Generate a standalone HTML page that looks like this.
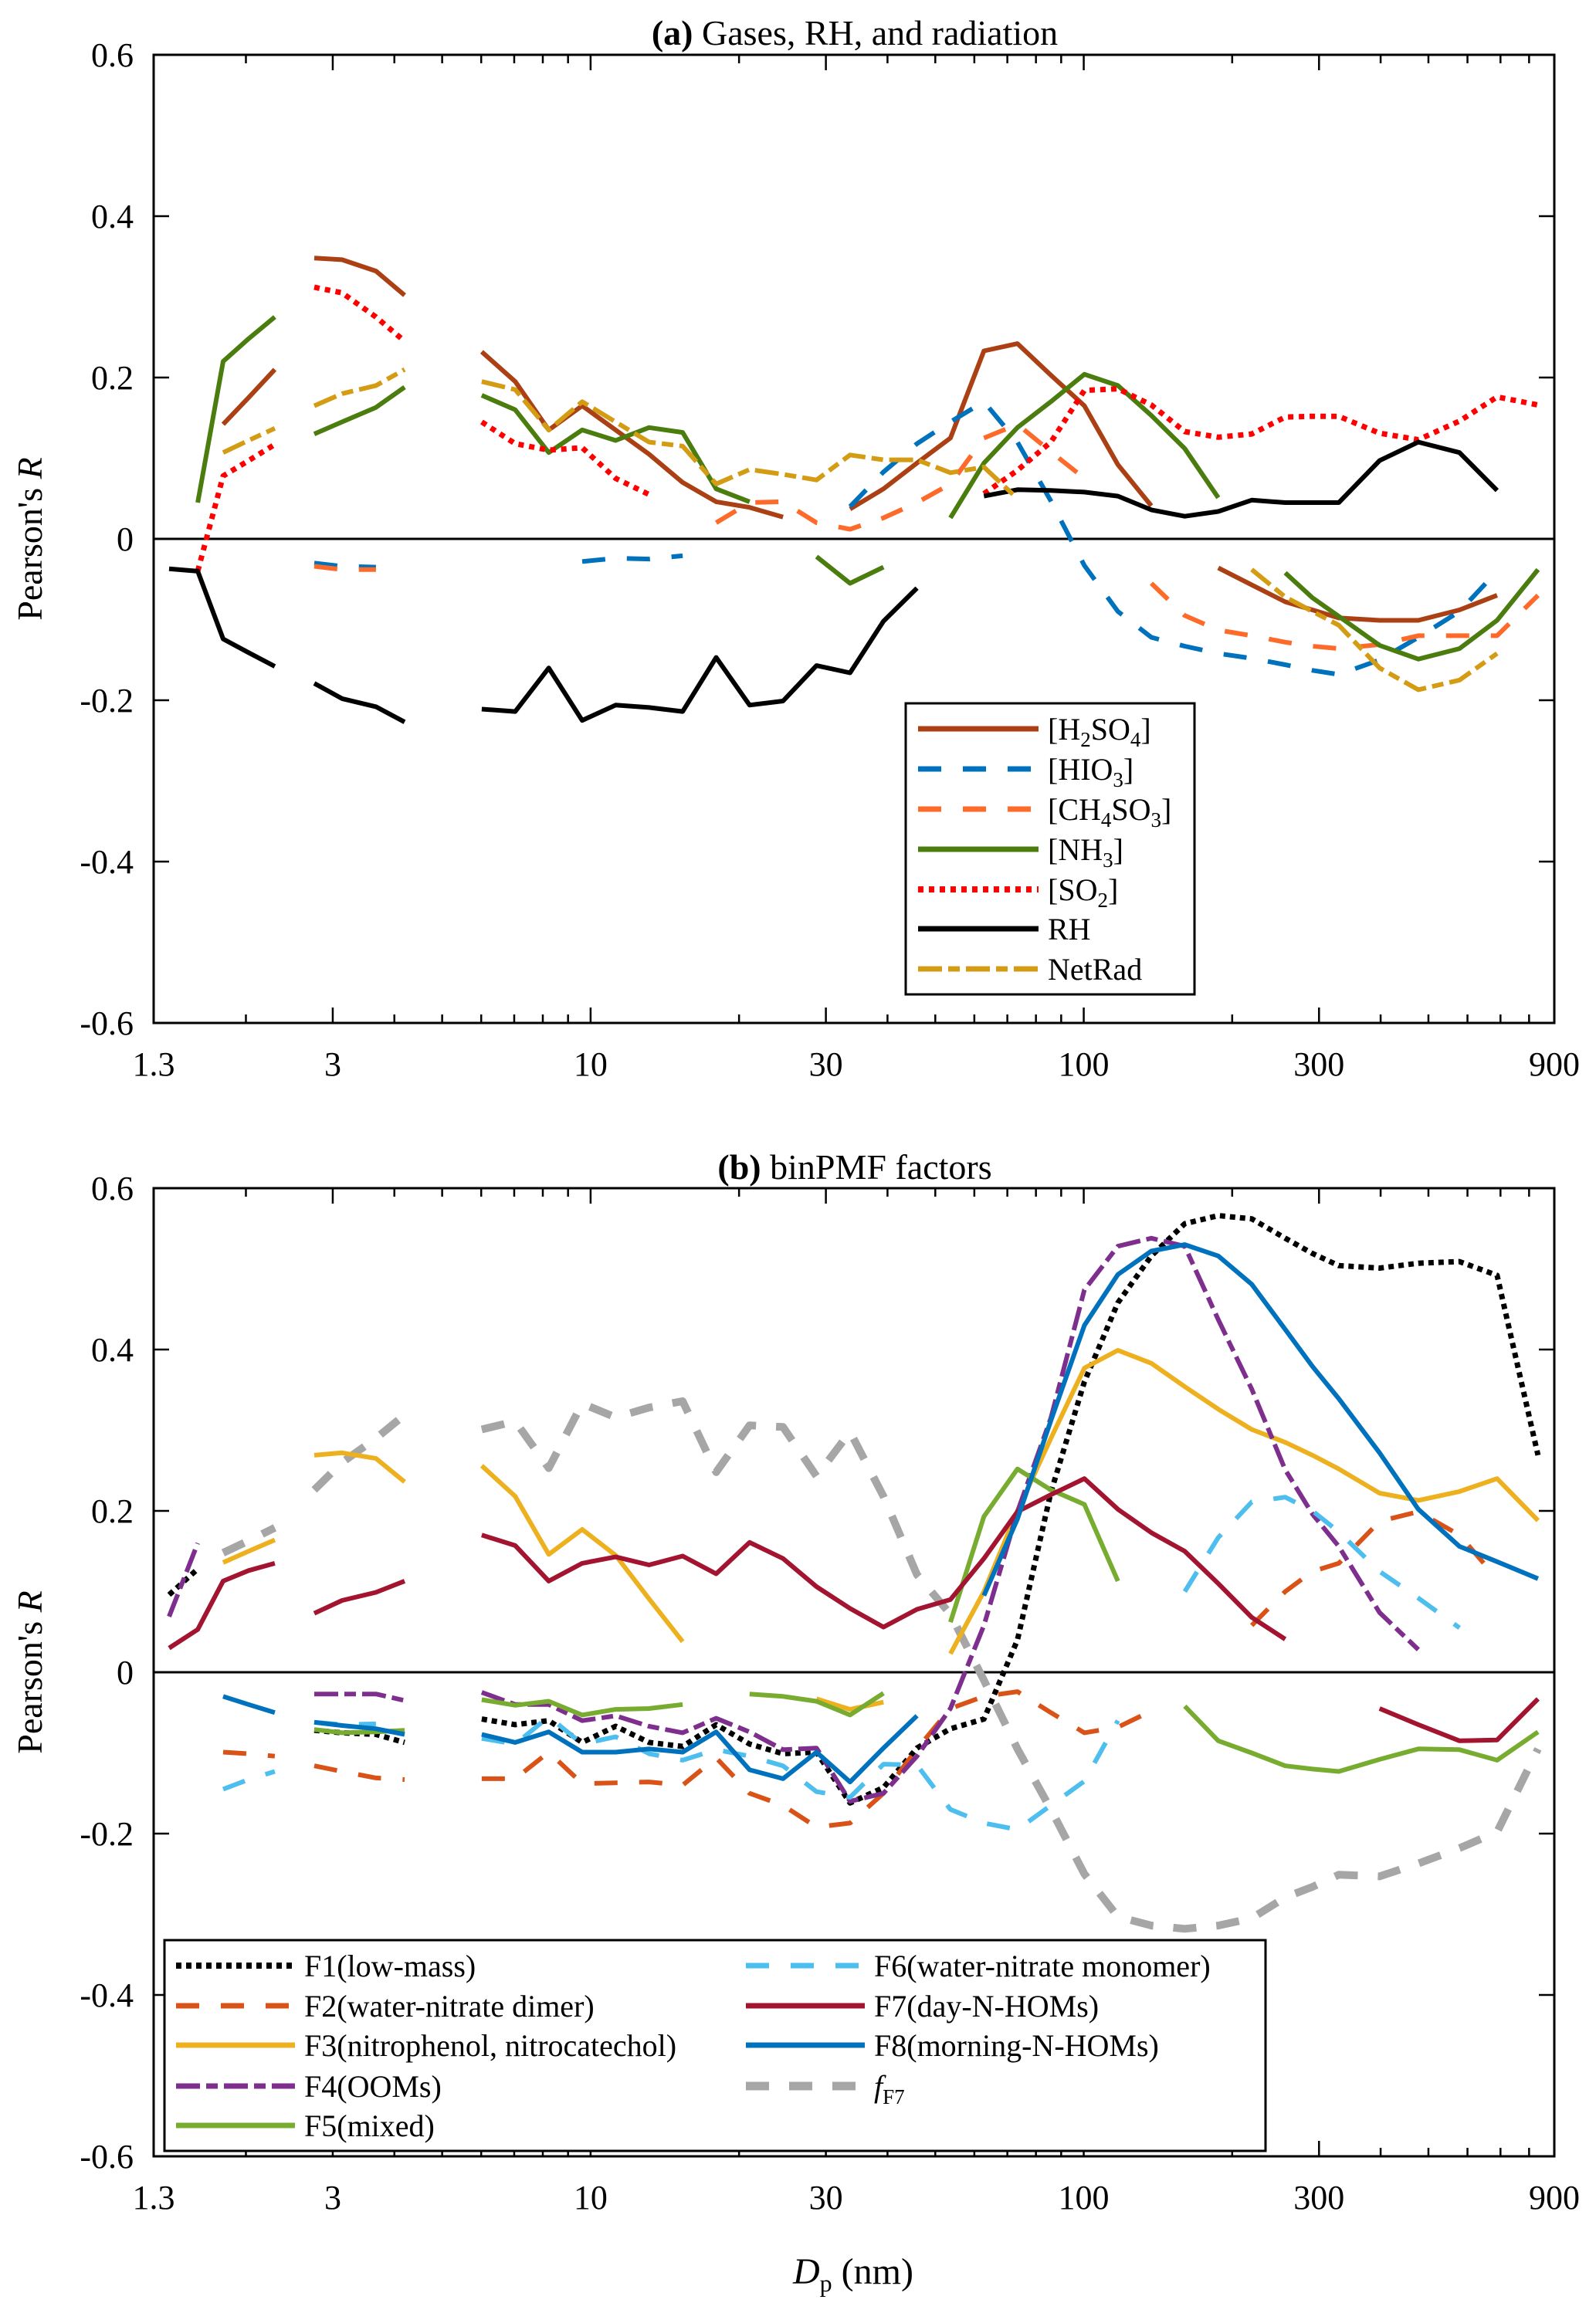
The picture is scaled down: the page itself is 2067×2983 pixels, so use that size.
<!DOCTYPE html>
<html><head><meta charset="utf-8"><style>
html,body{margin:0;padding:0;background:#fff;}
svg{display:block;font-family:"Liberation Serif",serif;}
svg text{font-family:"Liberation Serif",serif;}
</style></head><body>
<svg id="fig" width="2067" height="2983" viewBox="0 0 2067 2983" xmlns="http://www.w3.org/2000/svg" font-family="Liberation Serif, serif">
<rect x="0" y="0" width="2067" height="2983" fill="#fff"/>
<g id="pa"></g>
<g id="pb"></g>
<text x="1107" y="58" font-size="46" text-anchor="middle"><tspan font-weight="bold">(a)</tspan> Gases, RH, and radiation</text>
<text x="1107" y="1527" font-size="46" text-anchor="middle"><tspan font-weight="bold">(b)</tspan> binPMF factors</text>
<text x="1105" y="2958" font-size="48" text-anchor="middle"><tspan font-style="italic">D</tspan><tspan font-size="32" dy="10">p</tspan><tspan dy="-10"> (nm)</tspan></text>
<text transform="translate(54,698) rotate(-90)" font-size="46" text-anchor="middle">Pearson's <tspan font-style="italic">R</tspan></text>
<text transform="translate(54,2166) rotate(-90)" font-size="46" text-anchor="middle">Pearson's <tspan font-style="italic">R</tspan></text>
</svg>
<script>
// Shared diameter grid (nm)
const dp = [1.397,1.597,1.798,2.025,2.289, 2.752,3.133,3.671,4.196,
 6.016,7.034,8.224,9.615,11.24,13.14,15.37,17.97,21.01,24.56,28.72,33.58,39.26,45.90,53.67,62.75,73.37,85.78,100.3,117.3,137.1,160.3,187.4,219.1,256.2,291,329,398,477,578,689,834];
// indices where a new instrument size range starts (lines are broken there)
const groupBreaks = [5, 9];
const xTicks = [1.3,3,10,30,100,300,900];
const xTickLabels = ["1.3","3","10","30","100","300","900"];
const yTicks = [-0.6,-0.4,-0.2,0,0.2,0.4,0.6];
const yTickLabels = ["-0.6","-0.4","-0.2","0","0.2","0.4","0.6"];
// Panel (a)
const h2so4 = [null,null,0.142,0.175,0.21, 0.348,0.346,0.332,0.302, 0.232,0.195,0.135,0.165,0.135,0.105,0.07,0.046,0.039,0.027, null,0.037,0.062,0.094,0.125,0.233,0.242,0.203,0.165,0.092,0.041, null,-0.036,-0.057,-0.078,-0.088,-0.098,-0.101,-0.101,-0.088,-0.070,null];
const hio3 = [null,null,null,null,null, -0.030,-0.034,-0.035,null, null,null,null,-0.028,-0.024,-0.025,-0.021,null,null,null,null, 0.040,0.083,0.118,0.145,0.170,0.120,0.047,-0.033,-0.090,-0.122,-0.133,-0.142,-0.148,-0.156,-0.163,-0.168,-0.150,-0.122,-0.090,-0.040,null];
const ch4so3 = [null,null,null,null,null, -0.034,-0.038,-0.038,null, null,null,null,null,null,null,null, 0.020,0.045,0.046,0.020,0.012,0.026,0.045,0.068,0.125,0.142,0.108,0.075,null,-0.055,-0.095,-0.113,-0.120,-0.128,-0.133,-0.136,-0.131,-0.120,-0.120,-0.120,-0.070];
const nh3 = [null,0.045,0.22,0.248,0.275, 0.13,0.145,0.163,0.188, 0.178,0.16,0.107,0.135,0.122,0.138,0.132,0.062,0.046,null, -0.022,-0.055,-0.035,null, 0.026,0.094,0.138,0.17,0.204,0.19,0.153,0.112,0.051,null, -0.042,-0.073,-0.096,-0.132,-0.149,-0.136,-0.101,-0.038];
const so2 = [null,-0.04,0.078,0.097,0.117, 0.312,0.305,0.275,0.245, 0.145,0.118,0.11,0.113,0.075,0.055, null,null,null,null,null,null,null,null,null, 0.056,0.085,0.12,0.184,0.186,0.166,0.133,0.126,0.13,0.151,0.152,0.152,0.131,0.123,0.146,0.176,0.166];
const rh = [-0.037,-0.040,-0.124,-0.141,-0.158, -0.179,-0.198,-0.208,-0.227, -0.211,-0.214,-0.160,-0.225,-0.206,-0.209,-0.214,-0.147,-0.206,-0.201,-0.157,-0.166,-0.102,-0.061, null, 0.053,0.061,0.060,0.058,0.053,0.036,0.028,0.034,0.048,0.045,0.045,0.045,0.097,0.120,0.107,0.060,null];
const netrad = [null,null,0.107,0.122,0.137, 0.165,0.18,0.19,0.21, 0.195,0.185,0.135,0.17,0.145,0.12,0.115,0.068,0.086,0.08,0.073,0.104,0.098,0.098,0.082,0.089,0.05, null,null,null,null,null,null, -0.038,-0.072,-0.09,-0.107,-0.16,-0.187,-0.175,-0.142,null];
// Panel (b)
const f1 = [0.096,0.128,null,null,null, -0.072,-0.075,-0.077,-0.087, -0.058,-0.065,-0.06,-0.087,-0.067,-0.087,-0.092,-0.065,-0.089,-0.101,-0.099,-0.162,-0.143,-0.094,-0.07,-0.058,0.04,0.223,0.36,0.458,0.516,0.556,0.566,0.562,0.538,0.519,0.504,0.501,0.507,0.509,0.492,0.269];
const f2 = [null,null,-0.099,-0.101,-0.104, -0.116,-0.123,-0.131,-0.133, -0.132,-0.132,-0.099,-0.138,-0.137,-0.136,-0.14,-0.106,-0.15,-0.165,-0.192,-0.187,-0.15,-0.095,-0.045,-0.03,-0.024,-0.05,-0.075,-0.068,-0.048, null,null, 0.058,0.1,0.125,0.135,0.187,0.199,0.17,0.116,null];
const f3 = [null,null,0.136,0.15,0.164, 0.269,0.272,0.265,0.236, 0.256,0.218,0.146,0.177,0.145,0.091,0.038, null,null,null, -0.033,-0.046,-0.037, null, 0.023,0.1,0.2,0.29,0.377,0.399,0.383,0.354,0.326,0.301,0.285,0.269,0.252,0.222,0.213,0.224,0.24,0.188];
const f4 = [0.069,0.16,null,null,null, -0.027,-0.027,-0.027,-0.035, -0.025,-0.04,-0.04,-0.06,-0.054,-0.067,-0.075,-0.057,-0.074,-0.096,-0.094,-0.16,-0.15,-0.104,-0.045,0.058,0.199,0.315,0.474,0.528,0.538,0.528,0.437,0.351,0.251,0.196,0.156,0.074,0.028,null,null,null];
const f5 = [null,null,null,null,null, -0.071,-0.075,-0.074,-0.072, -0.034,-0.041,-0.036,-0.053,-0.046,-0.045,-0.04, null, -0.027,-0.03,-0.036,-0.053,-0.026, null, 0.062,0.193,0.252,0.226,0.208,0.113, null, -0.042,-0.085,-0.1,-0.116,-0.12,-0.123,-0.108,-0.095,-0.096,-0.109,-0.074];
const f6 = [null,null,-0.145,-0.133,-0.123, -0.062,-0.065,-0.064,null, -0.082,-0.089,-0.055,-0.089,-0.08,-0.101,-0.109,-0.096,-0.104,-0.116,-0.148,-0.155,-0.114,-0.115,-0.17,-0.187,-0.195,-0.165,-0.135,-0.06, null, 0.1,0.167,0.211,0.217,0.2,0.174,0.125,0.092,0.055,null,null];
const f7 = [0.030,0.053,0.113,0.126,0.135, 0.073,0.089,0.099,0.113, 0.17,0.157,0.113,0.135,0.143,0.133,0.144,0.122,0.161,0.141,0.106,0.079,0.056,0.078,0.09,0.141,0.199,0.22,0.24,0.202,0.173,0.15,0.11,0.068,0.041, null,null, -0.045,-0.065,-0.085,-0.084,-0.033];
const f8 = [null,null,-0.03,-0.04,-0.05, -0.062,-0.066,-0.07,-0.077, -0.077,-0.087,-0.074,-0.099,-0.099,-0.095,-0.099,-0.074,-0.121,-0.132,-0.099,-0.136,-0.094,-0.054, null, 0.095,0.19,0.312,0.43,0.493,0.522,0.53,0.516,0.481,0.425,0.379,0.339,0.272,0.202,0.156,0.137,0.116];
const ff7 = [null,null,0.148,0.163,0.179, 0.226,0.26,0.29,0.319, 0.301,0.311,0.253,0.333,0.316,0.328,0.336,0.248,0.306,0.304,0.243,0.298,0.218,0.121,0.072,-0.01,-0.095,-0.17,-0.25,-0.303,-0.314,-0.318,-0.314,-0.305,-0.279,-0.266,-0.251,-0.253,-0.237,-0.218,-0.198,-0.095];

const NS = "http://www.w3.org/2000/svg";
const X0 = 199, X1 = 2013, LMIN = Math.log10(1.3), LMAX = Math.log10(900);
function xs(d){ return X0 + (X1 - X0) * (Math.log10(d) - LMIN) / (LMAX - LMIN); }
function makeY(top, bottom){ return r => top + (0.6 - r) / 1.2 * (bottom - top); }
function mk(tag, parent){ const e = document.createElementNS(NS, tag); parent.appendChild(e); return e; }

function drawPanel(g, top, bottom, prefix, series, legend){
  const ys = makeY(top, bottom);
  const z = mk("line", g);
  
  
  z.setAttribute("x1", X0); z.setAttribute("x2", X1); z.setAttribute("y1", ys(0)); z.setAttribute("y2", ys(0));
  z.setAttribute("stroke", "#000"); z.setAttribute("stroke-width", "3");
  series.forEach(s => {
    const sg = mk("g", g);
    
    
    let seg = [];
    const flush = () => {
      if (seg.length > 1) {
        const p = mk("polyline", sg);
        
        
        p.setAttribute("points", seg.join(" "));
        p.setAttribute("fill", "none"); p.setAttribute("stroke", s.c);
        p.setAttribute("stroke-width", s.w); p.setAttribute("stroke-linejoin", "round");
        if (s.d) p.setAttribute("stroke-dasharray", s.d);
      }
      seg = [];
    };
    s.v.forEach((v, i) => {
      if (groupBreaks.indexOf(i) >= 0) flush();
      if (v === null) { flush(); return; }
      seg.push(xs(dp[i]).toFixed(1) + "," + ys(v).toFixed(1));
    });
    flush();
  });
  const fr = mk("rect", g);
  
  
  fr.setAttribute("x", X0); fr.setAttribute("y", top); fr.setAttribute("width", X1 - X0); fr.setAttribute("height", bottom - top);
  fr.setAttribute("fill", "none"); fr.setAttribute("stroke", "#000"); fr.setAttribute("stroke-width", "3");
  const tg = mk("g", g);
  
  
  const minor = [];
  [1, 10, 100].forEach(dec => { for (let k = 1; k <= 9; k++) { const v = k * dec; if (v > 1.3 && v < 900) minor.push(v); } });
  minor.forEach(v => {
    const major = xTicks.indexOf(v) >= 0;
    const L = major ? 20 : 11;
    [[bottom, bottom - L], [top, top + L]].forEach(a => {
      const t = mk("line", tg);
      
      
      t.setAttribute("x1", xs(v)); t.setAttribute("x2", xs(v)); t.setAttribute("y1", a[0]); t.setAttribute("y2", a[1]);
      t.setAttribute("stroke", "#000"); t.setAttribute("stroke-width", "2.5");
    });
  });
  xTicks.forEach((v, i) => {
    const t = mk("text", tg);
    
    
    t.setAttribute("x", xs(v)); t.setAttribute("y", bottom + 68); t.setAttribute("font-size", "44");
    t.setAttribute("text-anchor", "middle"); t.textContent = xTickLabels[i];
  });
  const yg = mk("g", g);
  
  
  yTicks.forEach((v, i) => {
    [[X0, X0 + 20], [X1, X1 - 20]].forEach(a => {
      const t = mk("line", yg);
      
      
      t.setAttribute("x1", a[0]); t.setAttribute("x2", a[1]); t.setAttribute("y1", ys(v)); t.setAttribute("y2", ys(v));
      t.setAttribute("stroke", "#000"); t.setAttribute("stroke-width", "2.5");
    });
    const t = mk("text", yg);
    
    
    t.setAttribute("x", 173); t.setAttribute("y", ys(v) + 15); t.setAttribute("font-size", "44");
    t.setAttribute("text-anchor", "end"); t.textContent = yTickLabels[i];
  });
  const lg = mk("g", g);
  
  
  const b = mk("rect", lg);
  
  
  b.setAttribute("x", legend.x); b.setAttribute("y", legend.y); b.setAttribute("width", legend.w); b.setAttribute("height", legend.h);
  b.setAttribute("fill", "#fff"); b.setAttribute("stroke", "#000"); b.setAttribute("stroke-width", "3");
  legend.items.forEach(it => {
    const s = series.find(q => q.id === it.id);
    const e = mk("g", lg);
    
    
    const l = mk("line", e);
    
    
    l.setAttribute("x1", it.x); l.setAttribute("x2", it.x + legend.sw); l.setAttribute("y1", it.y); l.setAttribute("y2", it.y);
    l.setAttribute("stroke", s.c); l.setAttribute("stroke-width", Math.max(7, s.w + 1));
    if (s.d) l.setAttribute("stroke-dasharray", s.d);
    const t = mk("text", e);
    
    
    t.setAttribute("x", it.x + legend.sw + 12); t.setAttribute("y", it.y + 14); t.setAttribute("font-size", legend.fs);
    t.innerHTML = it.label;
  });
}

const sub = s => '<tspan font-size="27" dy="9">' + s + '</tspan><tspan dy="-9">';
const seriesA = [
  {id:"h2so4", v:h2so4, c:"#aa4014", w:6},
  {id:"hio3", v:hio3, c:"#0072bd", w:6, d:"30 28"},
  {id:"ch4so3", v:ch4so3, c:"#fd6a2a", w:6, d:"30 28"},
  {id:"nh3", v:nh3, c:"#4a7c0e", w:6},
  {id:"so2", v:so2, c:"#ff0000", w:7, d:"7 7"},
  {id:"rh", v:rh, c:"#000000", w:6},
  {id:"netrad", v:netrad, c:"#d49c14", w:6, d:"31 8 15 8"}
];
const legA = {x:1173, y:911, w:374, h:377, sw:156, fs:40, items:[
  {id:"h2so4", x:1189, y:944, label:"[H" + sub("2") + "SO" + '</tspan>' + sub("4") + "]</tspan>"},
  {id:"hio3", x:1189, y:996, label:"[HIO" + sub("3") + "]</tspan>"},
  {id:"ch4so3", x:1189, y:1048, label:"[CH" + sub("4") + "SO</tspan>" + sub("3") + "]</tspan>"},
  {id:"nh3", x:1189, y:1100, label:"[NH" + sub("3") + "]</tspan>"},
  {id:"so2", x:1189, y:1152, label:"[SO" + sub("2") + "]</tspan>"},
  {id:"rh", x:1189, y:1203, label:"RH"},
  {id:"netrad", x:1189, y:1255, label:"NetRad"}
]};
drawPanel(document.getElementById("pa"), 71, 1325, "a", seriesA, legA);

const seriesB = [
  {id:"ff7", v:ff7, c:"#a6a6a6", w:10, d:"30 26"},
  {id:"f1", v:f1, c:"#000000", w:7, d:"7 6"},
  {id:"f2", v:f2, c:"#d95319", w:6, d:"30 28"},
  {id:"f3", v:f3, c:"#edb120", w:6},
  {id:"f4", v:f4, c:"#7e2f8e", w:6, d:"31 8 15 8"},
  {id:"f5", v:f5, c:"#77ac30", w:6},
  {id:"f6", v:f6, c:"#4dbeee", w:6, d:"30 28"},
  {id:"f7", v:f7, c:"#a2142f", w:6},
  {id:"f8", v:f8, c:"#0072bd", w:6}
];
const legB = {x:213, y:2513, w:1426, h:273, sw:154, fs:40, items:[
  {id:"f1", x:228, y:2546, label:"F1(low-mass)"},
  {id:"f2", x:228, y:2598, label:"F2(water-nitrate dimer)"},
  {id:"f3", x:228, y:2649, label:"F3(nitrophenol, nitrocatechol)"},
  {id:"f4", x:228, y:2702, label:"F4(OOMs)"},
  {id:"f5", x:228, y:2753, label:"F5(mixed)"},
  {id:"f6", x:966, y:2546, label:"F6(water-nitrate monomer)"},
  {id:"f7", x:966, y:2598, label:"F7(day-N-HOMs)"},
  {id:"f8", x:966, y:2649, label:"F8(morning-N-HOMs)"},
  {id:"ff7", x:966, y:2702, label:'<tspan font-style="italic">f</tspan><tspan font-size="27" dy="9">F7</tspan>'}
]};
drawPanel(document.getElementById("pb"), 1539, 2793, "b", seriesB, legB);
</script>
</body></html>
